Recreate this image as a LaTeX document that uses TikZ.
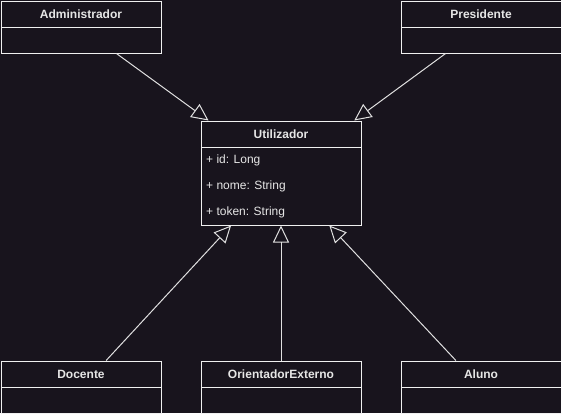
\documentclass[tikz,border=0pt]{standalone}
\usepackage{fontspec}
\setmainfont{Liberation Sans}
\usetikzlibrary{arrows.meta,calc}
\definecolor{bg}{HTML}{18141D}
\definecolor{edge}{HTML}{F0F0F0}
\definecolor{conn}{HTML}{E0E0E0}
\definecolor{txt}{HTML}{E6E6E6}
\begin{document}
\begin{tikzpicture}[x=1pt,y=-1pt,
  hdr/.style={draw=edge, line width=1pt, minimum width=160pt, minimum height=26pt, inner sep=0pt, anchor=north west, font=\bfseries\fontsize{12}{14}\selectfont, text=txt},
  bod/.style={draw=edge, line width=1pt, minimum width=160pt, minimum height=#1, inner sep=0pt, anchor=north west},
  bod/.default=26pt,
  attr/.style={anchor=base west, inner sep=0pt, font=\fontsize{12}{14}\selectfont, text=txt},
  inh/.style={draw=conn, line width=1pt, -{Triangle[open,length=17pt,width=16pt]}}]
\fill[bg] (0,0) rectangle (561,413);
\useasboundingbox (0,0) rectangle (561,413);
% classes
\node[hdr] (admh) at (0.5,0.5) {Administrador};
\node[bod] (admb) at (0.5,26.5) {};
\node[hdr] (presh) at (400.5,0.5) {Presidente};
\node[bod] (presb) at (400.5,26.5) {};
\node[hdr] (utilh) at (200.5,120.5) {Utilizador};
\node[bod=78pt] (utilb) at (200.5,146.5) {};
\node[attr] (a1) at (206,163.5) {+ id: Long};
\node[attr] (a2) at (206,189.5) {+ nome: String};
\node[attr] (a3) at (206,215.5) {+ token: String};
\node[hdr] (doch) at (0.5,360.5) {Docente};
\node[bod] (docb) at (0.5,386.5) {};
\node[hdr] (orih) at (200.5,360.5) {OrientadorExterno};
\node[bod] (orib) at (200.5,386.5) {};
\node[hdr] (aluh) at (400.5,360.5) {Aluno};
\node[bod] (alub) at (400.5,386.5) {};
% inheritance
\draw[inh] ($(admb.south west)!0.72!(admb.south east)$) -- ($(utilh.north west)!0.05!(utilh.north east)$);
\draw[inh] ($(presb.south west)!0.28!(presb.south east)$) -- ($(utilh.north west)!0.955!(utilh.north east)$);
\draw[inh] ($(doch.north west)!0.656!(doch.north east)$) -- ($(utilb.south west)!0.19!(utilb.south east)$);
\draw[inh] (orih.north) -- (utilb.south);
\draw[inh] ($(aluh.north west)!0.344!(aluh.north east)$) -- ($(utilb.south west)!0.80!(utilb.south east)$);
\end{tikzpicture}
\end{document}
